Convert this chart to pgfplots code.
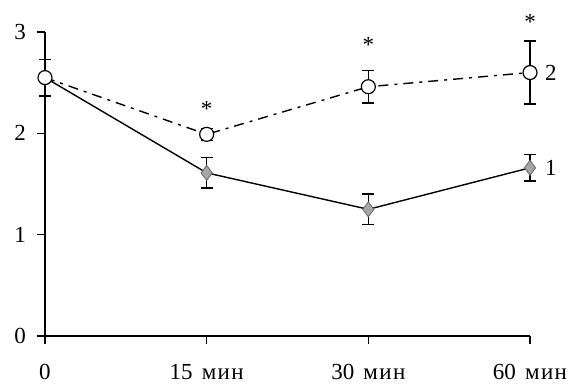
\documentclass[border=0pt]{standalone}
\usepackage{pgfplots}
\pgfplotsset{compat=1.18}
\usepackage{fontspec}
\setmainfont{Liberation Serif}
\newcommand{\mn}{{\addfontfeature{LetterSpace=6}мин}}
\pgfplotstableread{
x y e
0 2.55 0.0
1 1.61 0.15
2 1.25 0.15
3 1.66 0.13
}\seriesA
\pgfplotstableread{
x y e
0 2.55 0.18
1 1.99 0.06
2 2.46 0.16
3 2.60 0.31
}\seriesB
\definecolor{markgray}{RGB}{165,165,165}
\begin{document}
\begin{tikzpicture}
\begin{axis}[
  at={(0,0)}, anchor=south west,
  scale only axis, width=485pt, height=304pt,
  xmin=0, xmax=3, ymin=0, ymax=3,
  axis x line=bottom, axis y line=left,
  axis line style={-, line width=1.4pt, black},
  xtick={0,1,2,3},
  xticklabels={0,15\hspace{0.4em}\mn,30\hspace{0.4em}\mn,60\hspace{0.4em}\mn},
  ytick={0,1,2,3},
  tick align=outside, major tick length=8pt,
  tick style={line width=1.4pt, black},
  font=\fontsize{23}{27}\selectfont,
  /pgf/number format/assume math mode=true,
  xticklabel style={anchor=base, inner sep=0pt, yshift=-35pt},
  yticklabel style={anchor=east, inner sep=0pt, xshift=-11pt},
  clip=false,
]
\addplot[black, line width=1.4pt, mark=diamond*, mark size=7.5pt,
  mark options={fill=markgray, draw=gray!80!black, line width=0.8pt, solid},
  error bars/.cd, y dir=both, y explicit,
  error bar style={line width=1.4pt, solid, black},
  error mark options={rotate=90, mark size=6pt, line width=1.4pt, solid, black}]
  table[x=x, y=y, y error=e]{\seriesA};
\addplot[black, line width=1.4pt, dash pattern=on 10pt off 6pt on 3pt off 6pt,
  mark=*, mark size=7pt,
  mark options={fill=white, draw=black, line width=1.2pt, solid},
  error bars/.cd, y dir=both, y explicit,
  error bar style={line width=1.4pt, solid, black},
  error mark options={rotate=90, mark size=6pt, line width=1.4pt, solid, black}]
  table[x=x, y=y, y error=e]{\seriesB};
\node[anchor=base, inner sep=0pt, yshift=-12pt] at (axis cs:1,2.28) {*};
\node[anchor=base, inner sep=0pt, yshift=-12pt] at (axis cs:2,2.92) {*};
\node[anchor=base, inner sep=0pt, yshift=-12pt] at (axis cs:3,3.14) {*};
\node[anchor=west, inner sep=0pt, xshift=15pt] at (axis cs:3,2.60) {2};
\node[anchor=west, inner sep=0pt, xshift=15pt] at (axis cs:3,1.66) {1};
\end{axis}
\pgfresetboundingbox
\useasboundingbox (-45pt,-48pt) rectangle (524pt,336pt);
\end{tikzpicture}
\end{document}
